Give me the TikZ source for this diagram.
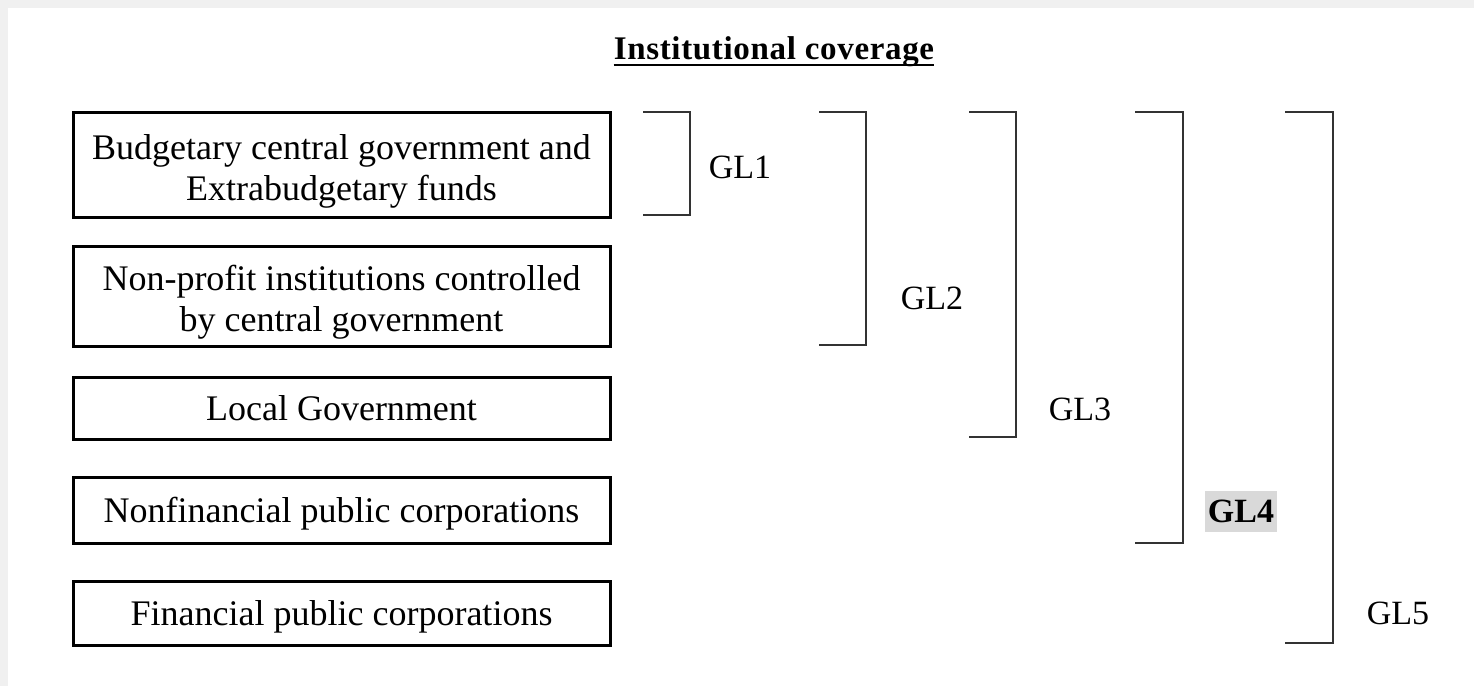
\documentclass[tikz,border=0pt]{standalone}
\usepackage{fontspec}
\setmainfont{Liberation Serif}
\usepackage{tikz}

\begin{document}
\begin{tikzpicture}[x=1pt,y=1pt,
  unitbox/.style={draw=black,line width=3pt,rectangle,minimum width=537pt,align=center,
    inner sep=0pt,font=\fontsize{36}{41}\selectfont},
  oneline/.style={text height=25pt,text depth=0pt},
  brace/.style={draw=black!80,line width=2pt},
  levellabel/.style={inner sep=0pt,font=\fontsize{34}{38}\selectfont}]
\useasboundingbox (0,0) rectangle (1474,-686);
\fill [black!6] (0,0) rectangle (1474,-686);
\fill [white] (8,-8) rectangle (1474,-686);
% title
\node [anchor=base,inner sep=0pt,font=\fontsize{33}{38}\selectfont\bfseries\addfontfeature{LetterSpace=2}] (title) at (774,-59) {Institutional coverage};
\draw [line width=2pt] ([yshift=-6pt]title.base west) -- ([yshift=-6pt]title.base east);
% units
\node [unitbox,minimum height=105pt] (bcg) at (341.5,-164.5) {\rule{0pt}{39pt}Budgetary central government and\\Extrabudgetary funds};
\node [unitbox,minimum height=100pt] (npi) at (341.5,-296) {\rule{0pt}{37pt}Non-profit institutions controlled\\by central government};
\node [unitbox,oneline,minimum height=62pt] (lg) at (341.5,-408) {Local Government};
\node [unitbox,oneline,minimum height=66pt] (nfpc) at (341.5,-510) {Nonfinancial public corporations};
\node [unitbox,oneline,minimum height=64pt] (fpc) at (341.5,-613) {Financial public corporations};
% levels
\draw [brace] (643,-112) -- (690,-112) -- (690,-215) -- (643,-215);
\node [levellabel] (gl1) at (740,-167) {GL1};
\draw [brace] (819,-112) -- (866,-112) -- (866,-345) -- (819,-345);
\node [levellabel] (gl2) at (932,-298) {GL2};
\draw [brace] (969,-112) -- (1016,-112) -- (1016,-437) -- (969,-437);
\node [levellabel] (gl3) at (1080,-409) {GL3};
\draw [brace] (1135,-112) -- (1183,-112) -- (1183,-543) -- (1135,-543);
\node [levellabel,fill=black!15,minimum height=41pt,inner xsep=3pt,font=\fontsize{34}{38}\selectfont\bfseries] (gl4) at (1241,-511.5) {GL4};
\draw [brace] (1285,-112) -- (1333,-112) -- (1333,-643) -- (1285,-643);
\node [levellabel] (gl5) at (1398,-613) {GL5};
\end{tikzpicture}
\end{document}
